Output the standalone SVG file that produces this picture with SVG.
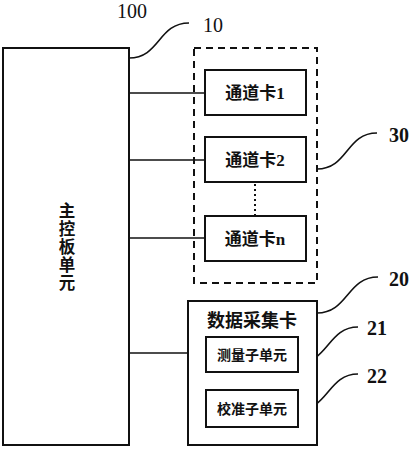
<svg xmlns="http://www.w3.org/2000/svg" width="413" height="450" viewBox="0 0 413 450">
<style>
.box{fill:#fff;stroke:#111;stroke-width:2}
.dash{fill:none;stroke:#111;stroke-width:2;stroke-dasharray:7 5}
.ln{fill:none;stroke:#111;stroke-width:1.6}
.dot{fill:none;stroke:#111;stroke-width:2;stroke-dasharray:2 3}
.t{font-family:"Liberation Serif","Noto Sans CJK SC",serif;font-weight:600;fill:#111;text-anchor:middle}
.num{font-family:"Liberation Serif",serif;fill:#111;font-size:20px}
</style>
<rect width="413" height="450" fill="#fff"/>
<g id="connectors">
<line class="ln" x1="129" y1="93" x2="205" y2="93"/>
<line class="ln" x1="129" y1="160" x2="205" y2="160"/>
<line class="ln" x1="129" y1="238" x2="205" y2="238"/>
<line class="ln" x1="129" y1="353" x2="188" y2="353"/>
<line class="ln" x1="252" y1="372" x2="252" y2="390"/>
<line class="dot" x1="255" y1="184" x2="255" y2="216"/>
<path class="ln" d="M129,58 C160,58 158,23 189,23"/>
<path class="ln" d="M317,169 C348,169 346,133 377,133"/>
<path class="ln" d="M317,313 C348,313 347,277 378,277"/>
<path class="ln" d="M298,363 C328,363 328,327 358,327"/>
<path class="ln" d="M298,410 C328,410 328,374 358,374"/>
</g>
<g id="main">
<rect class="box" x="3" y="48" width="126" height="397"/>
<text class="t" font-size="16.5" x="67"><tspan x="67" y="217">主</tspan><tspan x="67" y="235">控</tspan><tspan x="67" y="253">板</tspan><tspan x="67" y="271">单</tspan><tspan x="67" y="289">元</tspan></text>
</g>
<g id="group30"><rect class="dash" x="194" y="48" width="123" height="235"/></g>
<g id="card1"><rect class="box" x="205" y="70" width="101" height="45"/><text class="t" font-size="17" x="255" y="99">通道卡1</text></g>
<g id="card2"><rect class="box" x="205" y="137" width="101" height="45"/><text class="t" font-size="17" x="255" y="166">通道卡2</text></g>
<g id="cardn"><rect class="box" x="205" y="216" width="101" height="45"/><text class="t" font-size="17" x="255" y="245">通道卡n</text></g>
<g id="daq"><rect class="box" x="188" y="301" width="129" height="144"/><text class="t" font-size="18" x="252" y="327">数据采集卡</text></g>
<g id="measure"><rect class="box" x="206" y="337" width="92" height="35"/><text class="t" font-size="14" x="252" y="360">测量子单元</text></g>
<g id="calib"><rect class="box" x="206" y="390" width="92" height="37"/><text class="t" font-size="14" x="252" y="414">校准子单元</text></g>
<g id="labels">
<text class="num" x="117" y="18" font-size="21">100</text>
<text class="num" x="203" y="32" font-size="17">10</text>
<text class="num" x="389" y="142" font-weight="bold">30</text>
<text class="num" x="389" y="286" font-weight="bold">20</text>
<text class="num" x="367" y="335" font-weight="bold">21</text>
<text class="num" x="367" y="383" font-weight="bold">22</text>
</g>
</svg>
